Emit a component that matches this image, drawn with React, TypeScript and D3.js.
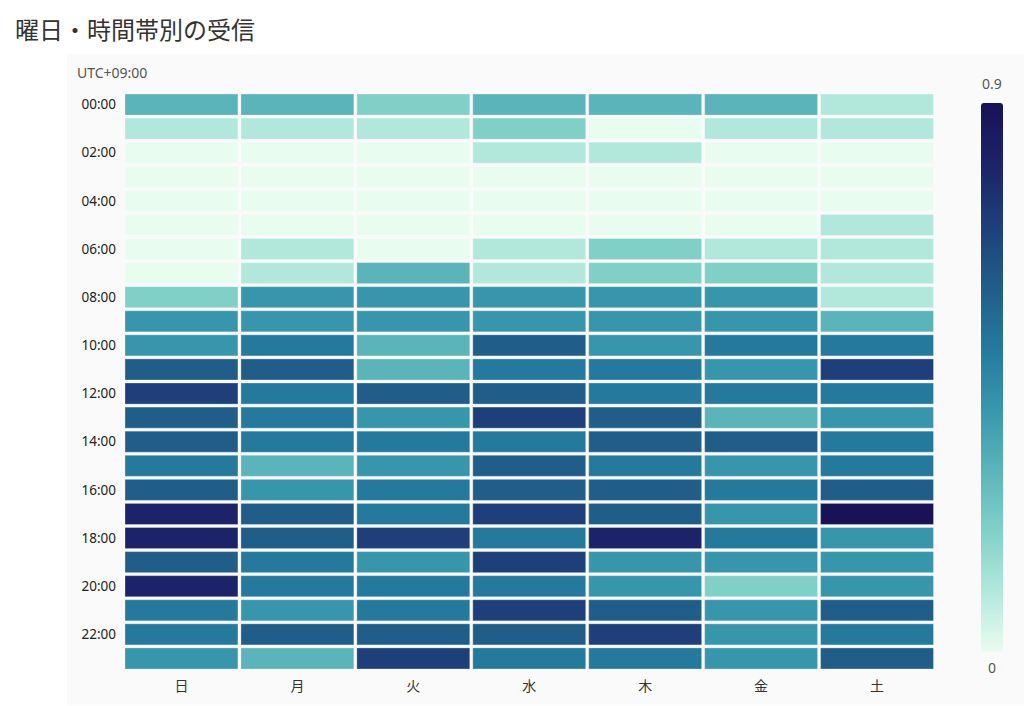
import React from "react";
import * as d3 from "d3";

const days = ["日", "月", "火", "水", "木", "金", "土"];
const hours = d3.range(24).map((h) => `${String(h).padStart(2, "0")}:00`);
const hourTicks = hours.filter((_, i) => i % 2 === 0);

// values per hour (rows), per weekday (columns 日..土)
const values: number[][] = [
  [0.3, 0.3, 0.2, 0.3, 0.3, 0.3, 0.1],
  [0.1, 0.1, 0.1, 0.2, 0.0, 0.1, 0.1],
  [0.0, 0.0, 0.0, 0.1, 0.1, 0.0, 0.0],
  [0.0, 0.0, 0.0, 0.0, 0.0, 0.0, 0.0],
  [0.0, 0.0, 0.0, 0.0, 0.0, 0.0, 0.0],
  [0.0, 0.0, 0.0, 0.0, 0.0, 0.0, 0.1],
  [0.0, 0.1, 0.0, 0.1, 0.2, 0.1, 0.1],
  [0.0, 0.1, 0.3, 0.1, 0.2, 0.2, 0.1],
  [0.2, 0.4, 0.4, 0.4, 0.4, 0.4, 0.1],
  [0.4, 0.4, 0.4, 0.4, 0.4, 0.4, 0.3],
  [0.4, 0.5, 0.3, 0.6, 0.4, 0.5, 0.5],
  [0.6, 0.6, 0.3, 0.5, 0.5, 0.4, 0.7],
  [0.7, 0.5, 0.6, 0.6, 0.5, 0.5, 0.5],
  [0.6, 0.5, 0.4, 0.7, 0.6, 0.3, 0.4],
  [0.6, 0.5, 0.5, 0.5, 0.6, 0.6, 0.5],
  [0.5, 0.3, 0.4, 0.6, 0.5, 0.4, 0.5],
  [0.6, 0.4, 0.5, 0.6, 0.6, 0.5, 0.6],
  [0.8, 0.6, 0.5, 0.7, 0.6, 0.4, 0.9],
  [0.8, 0.6, 0.7, 0.5, 0.8, 0.5, 0.4],
  [0.6, 0.5, 0.4, 0.7, 0.4, 0.4, 0.4],
  [0.8, 0.5, 0.5, 0.5, 0.4, 0.2, 0.4],
  [0.5, 0.4, 0.5, 0.7, 0.6, 0.4, 0.6],
  [0.5, 0.6, 0.6, 0.6, 0.7, 0.4, 0.5],
  [0.4, 0.3, 0.7, 0.5, 0.5, 0.4, 0.6],
];

const colorStops = [0, 0.1, 0.2, 0.3, 0.4, 0.5, 0.6, 0.7, 0.8, 0.9];
const colorRange = [
  "#e9fcf0", "#b2e8dc", "#80d0c8", "#5ab4b9", "#3896ac",
  "#25799c", "#205d89", "#1e3f7a", "#1c2369", "#191257",
];

export default function App() {
  const W = 1024, H = 706;
  const x = d3.scaleBand<string>().domain(days).range([123.5, 935]);
  const y = d3.scaleBand<string>().domain(hours).range([92.5, 670.5]);
  const color = d3.scaleLinear<string>().domain(colorStops).range(colorRange).clamp(true);
  const legendY = d3.scaleLinear().domain([0, 0.9]).range([652, 103]);
  const font = "'Noto Sans', 'Noto Sans CJK JP', sans-serif";

  const cells: { d: string; h: string; v: number }[] = [];
  values.forEach((row, i) => row.forEach((v, j) => cells.push({ d: days[j], h: hours[i], v })));

  return (
    <svg width={W} height={H} style={{ position: "absolute", left: 0, top: 0 }} fontFamily={font}>
      <rect x={0} y={0} width={W} height={H} fill="#ffffff" />
      <rect x={67} y={54} width={W - 67} height={651} fill="#fafafa" />
      <text x={15} y={39} fontSize={24} fill="#333" fontFamily="'Noto Sans CJK JP', sans-serif">
        曜日・時間帯別の受信
      </text>
      <text x={77} y={78} fontSize={14} fill="#555">UTC+09:00</text>
      {cells.map((c, k) => (
        <rect
          key={k}
          x={(x(c.d) as number) + 1.5}
          y={(y(c.h) as number) + 1.5}
          width={x.bandwidth() - 3}
          height={y.bandwidth() - 3}
          fill={color(c.v)}
          stroke="rgba(255,255,255,0.3)"
          strokeWidth={1}
        />
      ))}
      {hourTicks.map((h) => (
        <text key={h} x={116} y={(y(h) as number) + y.bandwidth() / 2} dy="0.35em" textAnchor="end" fontSize={13.5} fill="#222">
          {h}
        </text>
      ))}
      {days.map((d) => (
        <text key={d} x={(x(d) as number) + x.bandwidth() / 2} y={686} dy="0.35em" textAnchor="middle" fontSize={14} fill="#333" fontFamily="'Noto Sans CJK JP', sans-serif">
          {d}
        </text>
      ))}
      <defs>
        <linearGradient id="lg" x1="0" y1="1" x2="0" y2="0">
          {colorStops.map((s, i) => (
            <stop key={i} offset={s / 0.9} stopColor={colorRange[i]} />
          ))}
        </linearGradient>
      </defs>
      <rect x={981} y={legendY(0.9)} width={22} height={legendY(0) - legendY(0.9)} rx={3} fill="url(#lg)" />
      <text x={992} y={84} dy="0.35em" textAnchor="middle" fontSize={14} fill="#555">0.9</text>
      <text x={992} y={668} dy="0.35em" textAnchor="middle" fontSize={14} fill="#555">0</text>
    </svg>
  );
}
